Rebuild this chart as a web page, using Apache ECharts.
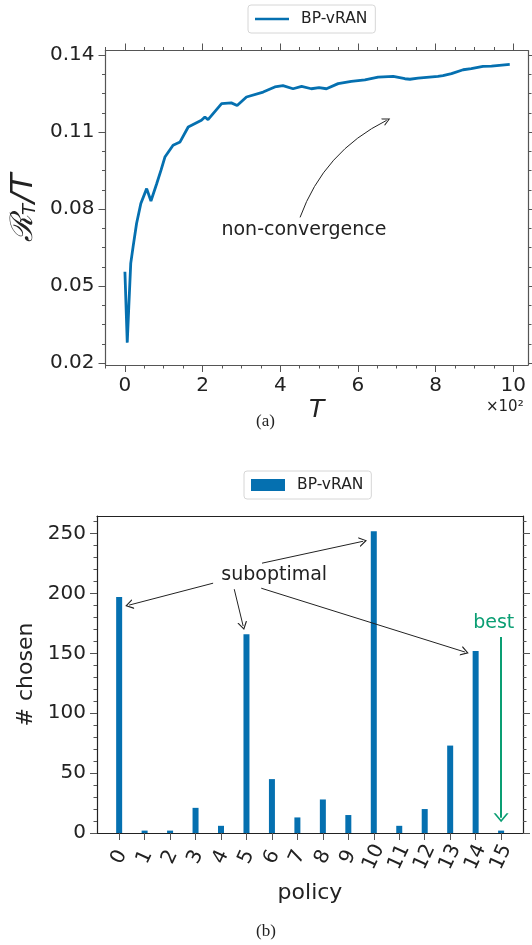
<!DOCTYPE html>
<html>
<head>
<meta charset="utf-8">
<script src="https://cdn.jsdelivr.net/npm/echarts@6/dist/echarts.min.js"></script>
<style>
  html, body { margin: 0; padding: 0; background: #fff; }
  #chart { width: 532px; height: 945px; }
</style>
</head>
<body>
<div id="chart"></div>
<script>
// (a) time-averaged regret of BP-vRAN
const tValues = [0, 6, 10, 15, 21, 30, 41, 56, 67, 82, 93, 103, 124, 142, 163, 197,
  206, 214, 249, 274, 289, 313, 356, 386, 407, 433, 455, 480, 500, 519, 549, 583, 618,
  652, 691, 721, 734, 755, 806, 819, 841, 871, 892, 922, 944, 991];
const regretPerT = [0.0556, 0.028, 0.042, 0.0589, 0.0653, 0.0744, 0.0822, 0.0880, 0.0832,
  0.0900, 0.0952, 0.1003, 0.1049, 0.1062, 0.1120, 0.1146, 0.1159, 0.1149, 0.1211, 0.1214,
  0.1204, 0.1237, 0.1256, 0.1276, 0.1281, 0.1269, 0.1278, 0.1269, 0.1273, 0.1269, 0.1289,
  0.1298, 0.1304, 0.1314, 0.1317, 0.1308, 0.1306, 0.1310, 0.1317, 0.1320, 0.1328, 0.1343,
  0.1347, 0.1356, 0.1357, 0.1364];
const tTicks = [0, 200, 400, 600, 800, 1000];
const regretTicks = [0.02, 0.05, 0.08, 0.11, 0.14];

// (b) how often each policy was chosen
const policies = ['0', '1', '2', '3', '4', '5', '6', '7', '8', '9', '10', '11', '12', '13', '14', '15'];
const chosenCounts = [197, 2, 2, 21, 6, 166, 45, 13, 28, 15, 252, 6, 20, 73, 152, 2];
const countTicks = [0, 50, 100, 150, 200, 250];

const blue = '#0570b0';
const green = '#0a9e73';
const ink = '#222';
const tickGrey = '#555';
const font = 'DejaVu Sans';

// minor tick positions
const tMinor = [];
for (let v = -50; v <= 1000; v += 50) if (v % 200 !== 0) tMinor.push(v);
const regretMinor = [];
for (let i = 0; i <= 16; i++) if (i % 4 !== 0) regretMinor.push(0.02 + i * 0.0075);
const countMinor = [];
for (let v = 10; v <= 260; v += 10) if (v % 50 !== 0) countMinor.push(v);

const barData = policies.map((p, i) => [i, chosenCounts[i]]);
const lineData = tValues.map((t, i) => [t, regretPerT[i]]);

// open arrow head, tip at the top
const arrowHead = 'path://M5,0 L10,10 L8.6,10 L5,2.6 L1.4,10 L0,10 Z';

function axis(extra) {
  return Object.assign({
    type: 'value',
    axisLine: { show: false, onZero: false },
    axisTick: { show: false },
    axisLabel: { show: false },
    splitLine: { show: false }
  }, extra);
}
function ticks(values, len, color) {
  return { show: true, length: len, customValues: values, lineStyle: { color: color || tickGrey, width: 1 } };
}
function spine(color) {
  return { show: true, onZero: false, lineStyle: { color: color, width: 1.2 } };
}

const topX = { gridIndex: 0, min: -50, max: 1038 };
const topY = { gridIndex: 0, min: 0.0193, max: 0.1418 };
const botX = { gridIndex: 1, min: -0.87, max: 15.86 };
const botY = { gridIndex: 1, min: 0, max: 264.7 };
const topSpine = '#555';
const botSpine = '#222';

const chart = echarts.init(document.getElementById('chart'), null, { renderer: 'canvas' });

chart.setOption({
  animation: false,
  textStyle: { fontFamily: font },
  grid: [
    { left: 105.5, top: 50.5, width: 422.5, height: 314.5 },
    { left: 97, top: 516, width: 426, height: 317 }
  ],
  legend: [
    {
      left: 248, top: 5,
      padding: [6, 8, 6, 7],
      itemWidth: 34, itemHeight: 2.5,
      borderColor: '#d6d6d6', borderWidth: 1, borderRadius: 3,
      textStyle: { fontSize: 15.5, color: ink, padding: [0, 0, 0, 7] },
      data: [{ name: 'BP-vRAN', icon: 'rect' }],
      selectedMode: false
    },
    {
      left: 244, top: 471,
      padding: [6, 8, 6, 7],
      itemWidth: 34, itemHeight: 12,
      borderColor: '#d6d6d6', borderWidth: 1, borderRadius: 3,
      textStyle: { fontSize: 15.5, color: ink, padding: [0, 0, 0, 7] },
      data: [{ name: 'BP-vRAN', icon: 'rect' }],
      selectedMode: false
    }
  ],
  xAxis: [
    axis(Object.assign({}, topX, {
      position: 'bottom',
      axisLine: spine(topSpine),
      axisTick: ticks(tTicks, 7),
      axisLabel: {
        show: true, customValues: tTicks, margin: 11, fontSize: 20, color: ink,
        formatter: v => String(Math.round(v / 100))
      },
      name: 'T', nameLocation: 'middle', nameGap: 33,
      nameTextStyle: { fontSize: 25, fontStyle: 'italic', color: ink }
    })),
    axis(Object.assign({}, topX, { position: 'bottom', axisTick: ticks(tMinor, 3.5) })),
    axis(Object.assign({}, topX, { position: 'top', axisLine: spine(topSpine), axisTick: ticks(tTicks, 7) })),
    axis(Object.assign({}, topX, { position: 'top', axisTick: ticks(tMinor, 3.5) })),
    axis(Object.assign({}, botX, {
      position: 'bottom',
      axisLine: spine(botSpine),
      axisTick: ticks(policies.map((p, i) => i), 7),
      axisLabel: {
        show: true, customValues: policies.map((p, i) => i), margin: 24, fontSize: 20, color: ink,
        rotate: 65, align: 'center', verticalAlign: 'middle',
        formatter: v => policies[Math.round(v)]
      },
      name: 'policy', nameLocation: 'middle', nameGap: 49,
      nameTextStyle: { fontSize: 22, color: ink }
    })),
    axis(Object.assign({}, botX, { position: 'top', axisLine: spine(botSpine) }))
  ],
  yAxis: [
    axis(Object.assign({}, topY, {
      position: 'left',
      axisLine: spine(topSpine),
      axisTick: ticks(regretTicks, 7),
      axisLabel: {
        show: true, customValues: regretTicks, margin: 11, fontSize: 20, color: ink,
        formatter: v => v.toFixed(2)
      },
      name: '{cal|ℛ}{sub|T}{it|/T}', nameLocation: 'middle', nameGap: 62, nameRotate: 90,
      nameTextStyle: {
        color: ink,
        rich: {
          cal: { fontSize: 31, fontFamily: 'DejaVu Serif', fontStyle: 'italic', color: ink },
          sub: { fontSize: 18, fontStyle: 'italic', color: ink, verticalAlign: 'bottom', padding: [10, 1, 0, 0] },
          it: { fontSize: 31, fontStyle: 'italic', color: ink }
        }
      }
    })),
    axis(Object.assign({}, topY, { position: 'left', axisTick: ticks(regretMinor, 3.5) })),
    axis(Object.assign({}, topY, { position: 'right', axisLine: spine(topSpine), axisTick: ticks(regretTicks, 7) })),
    axis(Object.assign({}, topY, { position: 'right', axisTick: ticks(regretMinor, 3.5) })),
    axis(Object.assign({}, botY, {
      position: 'left',
      axisLine: spine(botSpine),
      axisTick: ticks(countTicks, 7),
      axisLabel: { show: true, customValues: countTicks, margin: 11, fontSize: 20, color: ink },
      name: '# chosen', nameLocation: 'middle', nameGap: 57, nameRotate: 90,
      nameTextStyle: { fontSize: 22, color: ink }
    })),
    axis(Object.assign({}, botY, { position: 'left', axisTick: ticks(countMinor, 3.5) })),
    axis(Object.assign({}, botY, { position: 'right', axisLine: spine(botSpine), axisTick: ticks(countTicks, 7) })),
    axis(Object.assign({}, botY, { position: 'right', axisTick: ticks(countMinor, 3.5) }))
  ],
  series: [
    {
      name: 'BP-vRAN',
      type: 'line',
      xAxisIndex: 0, yAxisIndex: 0,
      data: lineData,
      showSymbol: false,
      color: blue,
      lineStyle: { width: 2.8, color: blue },
      markPoint: {
        silent: true,
        symbol: 'circle', symbolSize: 0,
        label: { show: true, position: 'inside', formatter: 'non-convergence', fontSize: 19, color: ink },
        data: [{ coord: [461, 0.0718] }]
      }
    },
    {
      // curved annotation arrow
      name: 'annotation',
      type: 'lines',
      coordinateSystem: 'cartesian2d',
      xAxisIndex: 0, yAxisIndex: 0,
      silent: true,
      symbol: ['none', arrowHead], symbolSize: [10, 8],
      lineStyle: { color: ink, width: 1, opacity: 1, curveness: 0.2 },
      data: [{ coords: [[451, 0.0768], [674, 0.1146]] }]
    },
    {
      name: 'BP-vRAN',
      type: 'bar',
      xAxisIndex: 4, yAxisIndex: 4,
      data: barData,
      barWidth: 6,
      color: blue,
      itemStyle: { color: blue },
      markLine: {
        silent: true,
        symbol: ['none', arrowHead], symbolSize: [10, 8],
        label: { show: false },
        emphasis: { disabled: true },
        lineStyle: { color: ink, width: 1, type: 'solid', curveness: 0 },
        data: [
          [{ coord: [3.69, 208.6] }, { coord: [0.39, 190.3] }],
          [{ coord: [4.52, 203.6] }, { coord: [4.87, 172.8] }],
          [{ coord: [5.61, 225.3] }, { coord: [9.58, 243.6] }],
          [{ coord: [5.58, 204.4] }, { coord: [13.58, 151.1] }],
          [
            { coord: [15, 163.6], lineStyle: { color: green, width: 2 } },
            { coord: [15, 12.8], symbolSize: [15, 9], lineStyle: { color: green, width: 2 } }
          ]
        ]
      },
      markPoint: {
        silent: true,
        symbol: 'circle', symbolSize: 0,
        data: [
          { coord: [6.09, 215], label: { show: true, position: 'inside', formatter: 'suboptimal', fontSize: 19, color: ink } },
          { coord: [14.71, 175], label: { show: true, position: 'inside', formatter: 'best', fontSize: 19, color: green } }
        ]
      }
    }
  ],
  graphic: [
    { type: 'text', left: 486, top: 400, style: { text: '×10²', fontSize: 15, fill: ink, fontFamily: font } },
    { type: 'text', left: 256, top: 413, style: { text: '(a)', fontSize: 17, fill: ink, fontFamily: 'Liberation Serif' } },
    { type: 'text', left: 256, top: 923, style: { text: '(b)', fontSize: 17, fill: ink, fontFamily: 'Liberation Serif' } }
  ]
});
</script>
</body>
</html>
